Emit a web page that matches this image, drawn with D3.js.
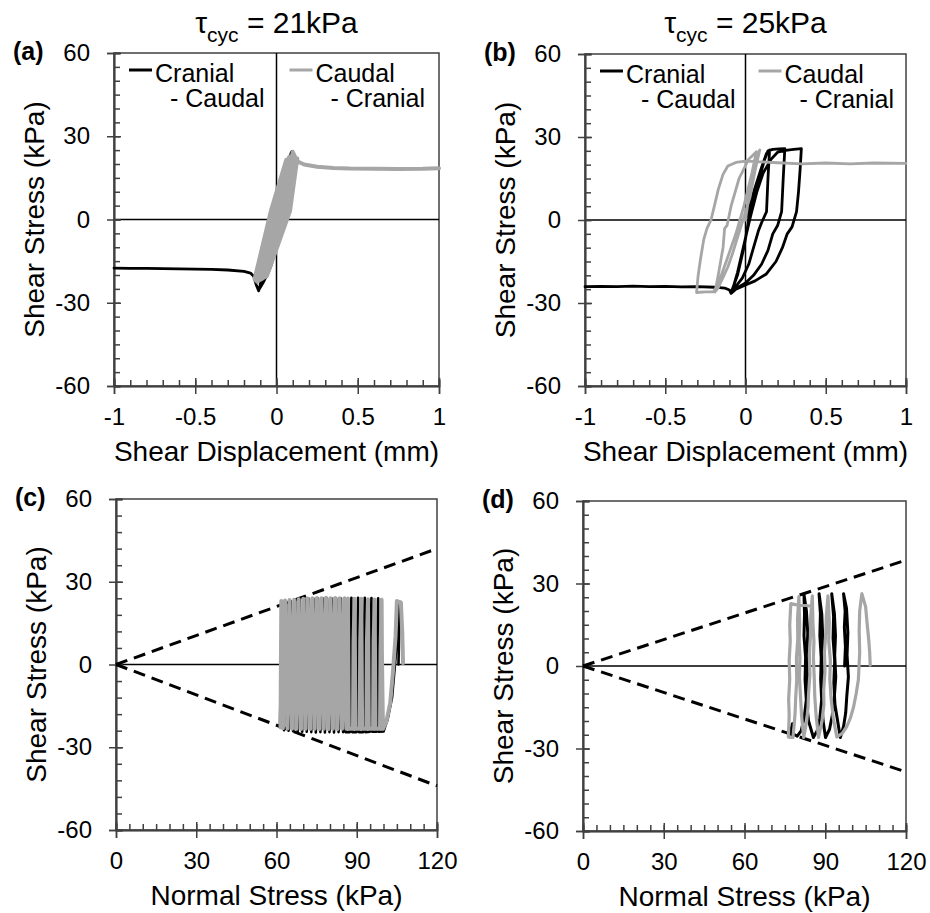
<!DOCTYPE html>
<html>
<head>
<meta charset="utf-8">
<script src="https://cdnjs.cloudflare.com/ajax/libs/d3/7.8.5/d3.min.js"></script>
<style>
    body { margin: 0; background: #fff; }
    svg { display: block; font-family: "Liberation Sans", Arial, sans-serif; }
</style>
</head>
<body>
<div id="chart"></div>
<script>
// Tick values and labels
const dispTicks = [-1, -0.5, 0, 0.5, 1];
const dispTickLabels = ["-1", "-0.5", "0", "0.5", "1"];
const shearTicks = [-60, -30, 0, 30, 60];
const normalTicks = [0, 30, 60, 90, 120];
const cycTitles = ["21kPa", "25kPa"];
const seriesNames = [["Cranial", "- Caudal"], ["Caudal", "- Cranial"]];

// (a) shear displacement (mm) vs shear stress (kPa), tau_cyc = 21 kPa
const cranialA = [[0,0],[0.03,8],[0.06,17],[0.09,24],[0.07,18],[0.03,9],[-0.02,-3],[-0.06,-13],[-0.09,-20],[-0.105,-25],
    [-0.08,-22.5],[-0.05,-19],[-0.03,-16],[-0.01,-9],[0.02,0],[0.05,10],[0.08,19],[0.095,24.5],[0.06,15],[0.01,2],
    [-0.04,-10],[-0.08,-19],[-0.1,-24],[-0.11,-25.7],[-0.125,-23.5],[-0.14,-20.5],[-0.16,-19.3],[-0.2,-18.7],
    [-0.3,-18.2],[-0.4,-18],[-0.5,-17.9],[-0.6,-17.8],[-0.7,-17.7],[-0.8,-17.6],[-0.9,-17.6],[-1,-17.5]];
const caudalA = [[0,0],[0.03,11],[0.06,21.5],[-0.035,3],[-0.135,-21.5],
    [-0.118,-22.5],[-0.01,3],[0.078,22.6],[0.085,22.5],[0.003,3],[-0.11,-22],
    [-0.102,-21.8],[0.015,3],[0.092,22.4],[0.098,22.2],[0.028,3],[-0.094,-21.6],
    [-0.087,-21.3],[0.042,3],[0.105,22.2],[0.111,22],[0.055,3],[-0.079,-21],
    [-0.072,-20.8],[0.068,3],[0.117,22],[0.122,21.8],[0.078,3],[-0.065,-20.5],
    [-0.06,-20.5],[0.083,3],[0.128,22],[0.12,21],[0.07,3],[-0.025,-12],[-0.09,-21],
    [-0.02,-6],[0.03,3],[0.09,21],[0.1,24.4],[0.115,22.5],[0.134,20.8],[0.17,19.8],[0.25,19],
    [0.35,18.6],[0.45,18.4],[0.6,18.3],[0.75,18.2],[0.9,18.3],[1,18.5]];

// (b) tau_cyc = 25 kPa
const cranialB = [[0,0],[0.05,10],[0.1,19],[0.13,24],[0.15,25.3],[0.14,15],[0.131,3],[0.1,-1],[0.08,-4],[0.05,-10],
    [0.02,-16],[-0.02,-21],[-0.06,-24],[-0.085,-25.5],[-0.05,-20],[-0.01,-10],[0.02,0],[0.05,8],[0.09,16],[0.12,22],
    [0.14,25],[0.17,25.5],[0.21,25.7],[0.245,25.8],[0.235,15],[0.225,3],[0.2,-2],[0.17,-5],[0.14,-11],[0.1,-16],
    [0.05,-20],[0,-22.8],[-0.05,-24.5],[-0.085,-26],[-0.05,-19],[-0.01,-9],[0.03,1],[0.07,10],[0.11,17],[0.16,22],
    [0.2,24.5],[0.25,25.2],[0.3,25.5],[0.348,25.8],[0.34,18],[0.33,10],[0.318,3],[0.29,-2.5],[0.26,-5],[0.23,-10],
    [0.19,-15],[0.13,-19.5],[0.06,-22],[0,-23.5],[-0.06,-25],[-0.09,-26.5],[-0.1,-25.3],[-0.13,-24.6],[-0.19,-24.3],
    [-0.3,-24.1],[-0.4,-24.2],[-0.5,-24],[-0.6,-24.1],[-0.7,-23.9],[-0.8,-24.1],[-0.9,-24],[-1,-24.1]];
const caudalB = [[0,0],[0.03,12],[0.06,22],[0.089,25.3],[0.06,18],[0.027,8],[-0.035,-3.6],[-0.08,-12],[-0.11,-17],
    [-0.15,-22],[-0.17,-24.5],[-0.19,-26],[-0.17,-20],[-0.14,-10],[-0.13,-3],[-0.115,-2],[-0.09,5],[-0.04,15],
    [0.02,22],[0.068,24.7],[0.04,17],[-0.01,5],[-0.06,-5],[-0.12,-15],[-0.17,-23],[-0.2,-26],[-0.25,-26],
    [-0.305,-26.2],[-0.295,-20],[-0.28,-14],[-0.26,-7],[-0.24,-3],[-0.215,0],[-0.19,6],[-0.17,11],[-0.14,16.5],
    [-0.11,19.5],[-0.06,20.8],[0,21.3],[0.1,21],[0.2,20.7],[0.35,20.3],[0.5,20.6],[0.65,20.3],[0.8,20.6],[1,20.5]];

// (c) normal stress (kPa) vs shear stress (kPa), tau_cyc = 21 kPa
const cranialC = [[105.6,0],[105.9,14],[106,22.5],[105.3,12],[104.3,0],[103.2,-12],[101.5,-20],[100,-24.3],
    [98.3,-24.4],[98.2,-8],[98.1,8],[98,24],[97.6,8],[97.5,-8],[97.4,-24.4],
    [95.8,-24.4],[95.7,-8],[95.6,8],[95.5,24.1],[95.1,8],[95,-8],[94.9,-24.4],
    [93.3,-24.5],[93.2,-8],[93.1,8],[93,24.2],[92.6,8],[92.5,-8],[92.4,-24.5],
    [90.8,-24.5],[90.7,-8],[90.6,8],[90.5,24.2],[90.1,8],[90,-8],[89.9,-24.5],
    [88.3,-24.5],[88.2,-8],[88.1,8],[88,24.2],[87.6,8],[87.5,-8],[87.4,-24.5],
    [85.8,-24.5],[85.7,-8],[85.6,8],[85.5,24.1],[85.1,8],[85,-8],[84.9,-24.5],
    [84,24],[83.2,-24.5],[82.3,24],[81.5,-24.6],[80.6,24],[79.8,-24.5],[78.9,24],[78.1,-24.6],[77.2,24],
    [76.4,-24.5],[75.5,24],[74.7,-24.6],[73.8,23.9],[73,-24.5],[72.1,23.8],[71.3,-24.4],[70.4,23.7],[69.6,-24.4],
    [68.7,23.5],[67.9,-24.3],[67,23.3],[66.2,-24.2],[65.3,23],[64.5,-24],[63.6,22.8],[62.8,-23.8],[62,22.5],
    [61.3,-22.8]];
const caudalC = [[107.3,0.5],[107,12],[106.5,22.5],[105,23],[104.5,10],[103.5,-3],[102.5,-14],[101,-21],[99.8,-23.3],
    [99.6,-10],[99.4,5],[99.3,23.5],[98.9,5],[98.8,-10],[98.7,-23.3],
    [97,-23.3],[96.9,-8],[96.8,8],[96.7,23.6],[96.3,8],[96.2,-8],[96.1,-23.3],
    [94.5,-23.3],[94.4,-8],[94.3,8],[94.2,23.7],[93.8,8],[93.7,-8],[93.6,-23.3],
    [92,-23.3],[91.9,-8],[91.8,8],[91.7,23.8],[91.3,8],[91.2,-8],[91.1,-23.3],
    [89.5,-23.3],[89.4,-8],[89.3,8],[89.2,23.8],[88.8,8],[88.7,-8],[88.6,-23.3],
    [87,-23.3],[86.9,-8],[86.8,8],[86.7,23.9],[86.3,8],[86.2,-8],[86.1,-23.3],
    [85.3,23.9],[84.5,-23.3],[83.6,24],[82.8,-23.4],[81.9,24.1],[81.1,-23.3],[80.2,24],[79.4,-23.4],[78.5,24.2],
    [77.7,-23.3],[76.8,24],[76,-23.4],[75.1,24.1],[74.3,-23.3],[73.4,24],[72.6,-23.4],[71.7,23.9],[70.9,-23.3],
    [70,23.8],[69.2,-23.4],[68.3,23.7],[67.5,-23.3],[66.6,23.5],[65.8,-23.3],[64.9,23.4],[64.1,-23.2],[63.2,23.2],
    [62.4,-23.1],[61.8,23],[61.5,-22.8],[62,22.8]];
const envelopeC = [[[0, 0], [120, 42]], [[0, 0], [120, -44]]];

// (d) tau_cyc = 25 kPa
const cranialD = [[97.2,0],[97.5,7],[97.1,14],[97.4,20],[96.8,26.3],[97.9,21],[98.4,12],[98.1,4],[98.6,-4],[98,-11],
    [97.6,-17],[96.8,-22],[95.6,-26],[94.6,-20],[93.6,-14],[93.2,-6],[93.5,2],[92.9,10],[93.1,18],[92.4,26.3],
    [93.4,19],[93.8,11],[93.5,4],[93.9,-4],[93.4,-11],[92.6,-18],[91.6,-23],[90.1,-26],[89.2,-20],[88.7,-13],
    [88.3,-5],[88.5,3],[88,11],[88.2,19],[87.7,26.3],[88.7,19],[89.1,10],[88.8,2],[89.1,-6],[88.6,-13],
    [88,-19],[87,-23.5],[85.6,-26],[83.8,-20],[83,-13],[82.5,-5],[82.7,3],[82.1,11],[82.3,19],[82.1,26],
    [83,20],[83.5,12],[83.2,4],[83.4,-4],[83,-12],[82.3,-18],[81.1,-23.5],[79.6,-25.5],[78.6,-25],[77.6,-24.6],
    [77,-24.4],[77.8,-21]];
const caudalD = [[106.7,0.3],[106.5,5],[106.2,9],[105.5,16],[105,21.5],[103.6,26.3],[102.8,20],[102.6,13],[102.8,5],
    [102.3,-5],[101.5,-10],[100.5,-15],[99.3,-19],[98,-22],[96.3,-24.5],[94.3,-25.8],[93,-19],[92.2,-12],[91.7,-5],
    [91.9,2],[91.3,9],[91.5,16],[91,25.5],[90.4,18],[90.2,12],[89.7,5],[89.9,-2],[89.4,-9],[89.5,-14],
    [88.8,-20],[87.5,-26],[86.6,-18],[86.1,-11],[85.9,-4],[85.6,3],[85.8,9],[85.4,16],[85.2,25.5],[84.6,18],
    [84.5,11],[84.1,4],[84.3,-3],[83.8,-10],[83.6,-15],[83.1,-20],[82,-26],[81.2,-18],[80.8,-11],[80.4,-4],
    [80.6,3],[80.3,9],[80.5,15],[80.2,25.2],[79.7,17],[79.8,10],[79.3,3],[79.4,-5],[79,-12],[78.8,-17],
    [78.4,-22],[78,-26],[77,-26],[76.3,-25.8],[76.6,-18],[76.4,-12],[76.8,-5],[76.6,2],[77,9],[76.8,15],
    [77.2,22.7],[79,22.3],[81,22],[83,22],[85,21.7]];
const envelopeD = [[[0, 0], [120, 38.5]], [[0, 0], [120, -38.5]]];

const width = 930, height = 913;
const gray = "#a6a6a6", axisColor = "#404040";

const svg = d3.select("#chart").append("svg")
    .attr("width", width)
    .attr("height", height);

// Panel layout
const panels = [
    {label: "(a)", box: [114, 439, 53, 386], xDomain: [-1, 1], xTicks: dispTicks, xLabels: dispTickLabels,
     xMinor: d3.range(-10, 11).map(i => i / 10), yMinor: d3.range(-60, 61, 5), black: cranialA, gray: caudalA,
     blackWidth: 2.8, grayWidth: 4, title: cycTitles[0], xTitle: "Shear Displacement (mm)", vZero: true},
    {label: "(b)", box: [585, 906, 54, 386], xDomain: [-1, 1], xTicks: dispTicks, xLabels: dispTickLabels,
     xMinor: d3.range(-10, 11).map(i => i / 10), yMinor: d3.range(-60, 61, 5), black: cranialB, gray: caudalB,
     blackWidth: 2.8, grayWidth: 2.8, title: cycTitles[1], xTitle: "Shear Displacement (mm)", vZero: true},
    {label: "(c)", box: [116, 437, 499, 830], xDomain: [0, 120], xTicks: normalTicks, xLabels: normalTicks.map(String),
     xMinor: d3.range(0, 121, 5), yMinor: d3.range(-60, 61, 6), black: cranialC, gray: caudalC,
     blackWidth: 2.6, grayWidth: 4, envelope: envelopeC, xTitle: "Normal Stress (kPa)"},
    {label: "(d)", box: [583, 906, 501, 831], xDomain: [0, 120], xTicks: normalTicks, xLabels: normalTicks.map(String),
     xMinor: d3.range(0, 121, 5), yMinor: d3.range(-60, 61, 5), black: cranialD, gray: caudalD,
     blackWidth: 3, grayWidth: 3.2, envelope: envelopeD, xTitle: "Normal Stress (kPa)"}
];

function styleAxis(g) {
    g.selectAll(".domain").attr("stroke", axisColor).attr("stroke-width", 1.5);
    g.selectAll(".tick line").attr("stroke", axisColor).attr("stroke-width", 1.5);
    g.selectAll(".tick text").attr("fill", "#000").style("font-size", "24px")
        .style("font-family", "'Liberation Sans', Arial, sans-serif");
}

panels.forEach(p => {
    const [left, right, top, bottom] = p.box;
    const x = d3.scaleLinear().domain(p.xDomain).range([left, right]);
    const y = d3.scaleLinear().domain([-60, 60]).range([bottom, top]);
    const g = svg.append("g");

    // Frame
    g.append("rect")
        .attr("x", left).attr("y", top)
        .attr("width", right - left).attr("height", bottom - top)
        .attr("fill", "none").attr("stroke", axisColor).attr("stroke-width", 1.5);

    // Zero lines
    g.append("line")
        .attr("x1", left).attr("x2", right)
        .attr("y1", y(0)).attr("y2", y(0))
        .attr("stroke", "#000").attr("stroke-width", 1.5);
    if (p.vZero) {
        g.append("line")
            .attr("x1", x(0)).attr("x2", x(0))
            .attr("y1", top).attr("y2", bottom)
            .attr("stroke", "#000").attr("stroke-width", 1.5);
    }

    // Y axis: minor ticks inside, major ticks across the axis
    g.append("g").attr("transform", `translate(${left},0)`)
        .call(d3.axisLeft(y).tickValues(p.yMinor).tickSize(-6).tickFormat(""))
        .call(styleAxis);
    g.append("g").attr("transform", `translate(${left},0)`)
        .call(d3.axisLeft(y).tickValues(shearTicks).tickSize(-7).tickFormat(""))
        .call(styleAxis);
    g.append("g").attr("transform", `translate(${left},0)`)
        .call(d3.axisLeft(y).tickValues(shearTicks).tickSize(7).tickPadding(17).tickFormat(d => String(d)))
        .call(styleAxis);

    // X axis
    g.append("g").attr("transform", `translate(0,${bottom})`)
        .call(d3.axisBottom(x).tickValues(p.xMinor).tickSize(-6).tickFormat(""))
        .call(styleAxis);
    g.append("g").attr("transform", `translate(0,${bottom})`)
        .call(d3.axisBottom(x).tickValues(p.xTicks).tickSize(-8).tickFormat(""))
        .call(styleAxis);
    g.append("g").attr("transform", `translate(0,${bottom})`)
        .call(d3.axisBottom(x).tickValues(p.xTicks).tickSize(8).tickPadding(14).tickFormat((d, i) => p.xLabels[i]))
        .call(styleAxis);

    // Failure envelopes
    if (p.envelope) {
        p.envelope.forEach(seg => {
            g.append("path")
                .attr("d", d3.line().x(d => x(d[0])).y(d => y(d[1]))(seg))
                .attr("fill", "none").attr("stroke", "#000")
                .attr("stroke-width", 3).attr("stroke-dasharray", "12,7");
        });
    }

    // Test curves: black first, gray on top
    const line = d3.line().x(d => x(d[0])).y(d => y(d[1]));
    g.append("path").attr("d", line(p.black))
        .attr("fill", "none").attr("stroke", "#000").attr("stroke-width", p.blackWidth)
        .attr("stroke-linejoin", "round").attr("stroke-linecap", "round");
    g.append("path").attr("d", line(p.gray))
        .attr("fill", "none").attr("stroke", gray).attr("stroke-width", p.grayWidth)
        .attr("stroke-linejoin", "round").attr("stroke-linecap", "round");

    // Axis titles
    g.append("text")
        .attr("x", (left + right) / 2).attr("y", bottom + 75)
        .attr("text-anchor", "middle").style("font-size", "28px")
        .text(p.xTitle);
    g.append("text")
        .attr("transform", `translate(${left - 70},${(top + bottom) / 2}) rotate(-90)`)
        .attr("text-anchor", "middle").style("font-size", "28px")
        .text("Shear Stress (kPa)");

    // Panel label
    g.append("text")
        .attr("x", left - 101).attr("y", top + 7)
        .style("font-size", "25px").style("font-weight", "bold")
        .text(p.label);

    // Title and legend for the top row
    if (p.title) {
        const t = g.append("text")
            .attr("x", (left + right) / 2).attr("y", 33)
            .attr("text-anchor", "middle").style("font-size", "30px");
        t.append("tspan").text("\u03c4");
        t.append("tspan").attr("dy", 9).style("font-size", "21px").text("cyc");
        t.append("tspan").attr("dy", -9).text(" = " + p.title);

        const legend = [
            {x0: left + 15, color: "#000", names: seriesNames[0]},
            {x0: x(0) + 13, color: gray, names: seriesNames[1]}
        ];
        legend.forEach(l => {
            g.append("line")
                .attr("x1", l.x0).attr("x2", l.x0 + 23)
                .attr("y1", top + 17).attr("y2", top + 17)
                .attr("stroke", l.color).attr("stroke-width", 3);
            g.append("text").attr("x", l.x0 + 26).attr("y", top + 29)
                .style("font-size", "25px").text(l.names[0]);
            g.append("text").attr("x", l.x0 + 41).attr("y", top + 54)
                .style("font-size", "25px").text(l.names[1]);
        });
    }
});
</script>
</body>
</html>
